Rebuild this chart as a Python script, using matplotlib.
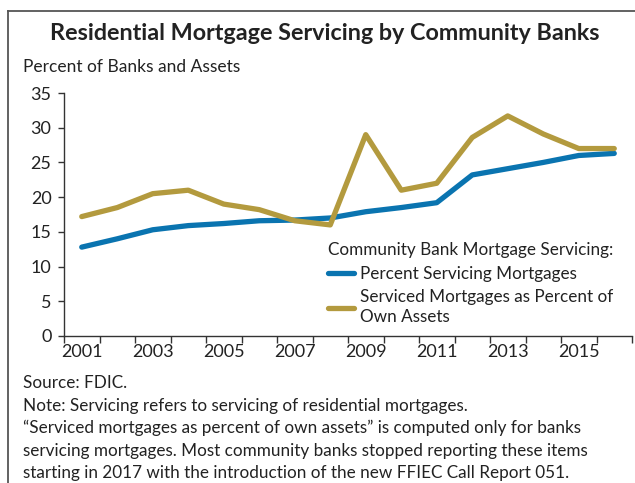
import matplotlib
matplotlib.use("Agg")
import matplotlib.pyplot as plt
from matplotlib.lines import Line2D
from matplotlib.ticker import MultipleLocator, FixedLocator

plt.rcParams['font.family'] = ['Lato', 'DejaVu Sans']

years = list(range(2001, 2017))
pct_servicing = [12.8, 14.0, 15.3, 15.9, 16.2, 16.6, 16.7, 17.0,
                 17.9, 18.5, 19.2, 23.2, 24.1, 25.0, 26.0, 26.3]
serviced_pct_assets = [17.2, 18.5, 20.5, 21.0, 19.0, 18.2, 16.6, 16.0,
                       29.0, 21.0, 22.0, 28.6, 31.7, 29.1, 27.0, 27.0]
year_labels = [2001, 2003, 2005, 2007, 2009, 2011, 2013, 2015]

BLUE = "#0a74b0"
GOLD = "#b39a3e"
TEXT = "#222222"

W, H = 635, 483
fig = plt.figure(figsize=(W / 100, H / 100), dpi=100)

# frame around the figure (top and left edges)
y_top = 1 - 11 / H
x_left = 8 / W
fig.add_artist(Line2D([x_left, 1], [y_top, y_top], transform=fig.transFigure,
                      color="#555555", lw=1.3))
fig.add_artist(Line2D([x_left, x_left], [y_top, 0], transform=fig.transFigure,
                      color="#555555", lw=1.3))

ax = fig.add_axes([64 / W, 1 - 336 / H, (632 - 64) / W, (336 - 93) / H])

ax.plot(years, pct_servicing, color=BLUE, lw=3.8, solid_capstyle="round",
        solid_joinstyle="round", label="Percent Servicing Mortgages")
ax.plot(years, serviced_pct_assets, color=GOLD, lw=3.8, solid_capstyle="round",
        solid_joinstyle="round",
        label="Serviced Mortgages as Percent of\nOwn Assets")

ax.set_xlim(2000.5, 2016.5)
ax.set_ylim(0, 35)
ax.yaxis.set_major_locator(MultipleLocator(5))
ax.xaxis.set_major_locator(FixedLocator(year_labels))
ax.xaxis.set_minor_locator(FixedLocator([y + 0.5 for y in range(2000, 2017)]))

for side in ("top", "right"):
    ax.spines[side].set_visible(False)
for side in ("left", "bottom"):
    ax.spines[side].set_color("#333333")
    ax.spines[side].set_linewidth(1.0)

ax.tick_params(axis="y", which="major", direction="out", length=4, width=1,
               color="#333333", labelsize=13, labelcolor=TEXT, pad=5)
ax.tick_params(axis="x", which="major", length=0, labelsize=13,
               labelcolor=TEXT, pad=6)
ax.tick_params(axis="x", which="minor", direction="out", length=5, width=1,
               color="#333333")

leg = ax.legend(loc="upper left", bbox_to_anchor=(328 / W, 1 - 242 / H),
                bbox_transform=fig.transFigure, frameon=False, fontsize=12.3,
                title="Community Bank Mortgage Servicing:", title_fontsize=12.3,
                alignment="left", handlelength=1.55, handletextpad=0.35,
                labelspacing=0.45, borderpad=0, borderaxespad=0)
for t in leg.get_texts():
    t.set_color(TEXT)
    t.set_linespacing(1.3)
leg.get_title().set_color(TEXT)

fig.text(325 / W, 1 - 34 / H, "Residential Mortgage Servicing by Community Banks",
         ha="center", va="center", fontsize=16.8, fontweight="bold", color=TEXT)
fig.text(23 / W, 1 - 67 / H, "Percent of Banks and Assets", ha="left",
         va="center", fontsize=12.5, color=TEXT)

notes = [
    "Source: FDIC.",
    "Note: Servicing refers to servicing of residential mortgages.",
    "\u201cServiced mortgages as percent of own assets\u201d is computed only for banks",
    "servicing mortgages. Most community banks stopped reporting these items",
    "starting in 2017 with the introduction of the new FFIEC Call Report 051.",
]
for i, line in enumerate(notes):
    fig.text(23 / W, 1 - (383 + i * 22.6) / H, line, ha="left", va="center",
             fontsize=12.35, color=TEXT)

fig.savefig("out.png", dpi=100)
